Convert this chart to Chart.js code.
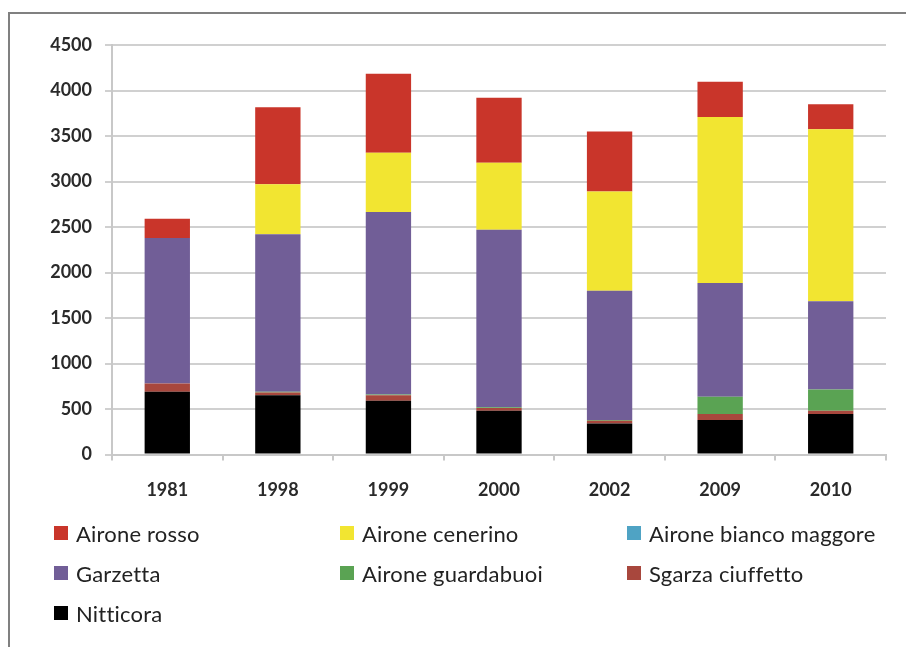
<!DOCTYPE html>
<html>
<head>
<meta charset="utf-8">
<script src="https://cdn.jsdelivr.net/npm/chart.js@4"></script>
<style>
  html, body { margin: 0; padding: 0; background: #fff; }
  #frame {
    position: absolute; left: 8px; top: 12px; width: 898px; height: 635px;
    border-left: 2px solid #808080; border-top: 2px solid #808080;
  }
  #wrap { position: absolute; left: 0; top: 0; width: 906px; height: 520px; }
  #legend {
    position: absolute; left: 54px; top: 513px;
    display: grid; grid-template-columns: 286px 287px 280px; grid-auto-rows: 40px;
    font-family: Lato, sans-serif; font-size: 22px; letter-spacing: 0.2px; color: #222;
  }
  #legend div { display: flex; align-items: center; white-space: nowrap; }
  #legend span.box { width: 14px; height: 14px; margin-right: 8px; display: inline-block; }
</style>
</head>
<body>
<div id="frame"></div>
<div id="wrap"><canvas id="myChart"></canvas></div>
<div id="legend"></div>
<script>
'use strict';

// years on the x axis
let years = ['1981', '1998', '1999', '2000', '2002', '2009', '2010'];

// nests per species, bottom of the stack first
let nitticora = [690, 650, 590, 480, 340, 380, 445];
let sgarzaCiuffetto = [90, 30, 60, 30, 30, 65, 35];
let aironeGuardabuoi = [0, 10, 10, 10, 10, 190, 235];
let garzetta = [1600, 1730, 2005, 1950, 1420, 1250, 970];
let aironeBiancoMaggore = [0, 0, 0, 0, 0, 0, 0];
let aironeCenerino = [0, 550, 650, 735, 1090, 1825, 1890];
let aironeRosso = [210, 847, 870, 715, 660, 385, 275];

let yTicks = [0, 500, 1000, 1500, 2000, 2500, 3000, 3500, 4000, 4500];

// legend order is top of the stack first
let series = [
    { name: 'Nitticora', data: nitticora, color: '#000000' },
    { name: 'Sgarza ciuffetto', data: sgarzaCiuffetto, color: '#A8473D' },
    { name: 'Airone guardabuoi', data: aironeGuardabuoi, color: '#5AA353' },
    { name: 'Garzetta', data: garzetta, color: '#715E97' },
    { name: 'Airone bianco maggore', data: aironeBiancoMaggore, color: '#4FA3C4' },
    { name: 'Airone cenerino', data: aironeCenerino, color: '#F2E531' },
    { name: 'Airone rosso', data: aironeRosso, color: '#C9352A' }
];

let datasets = [];
for (let i = 0; i < series.length; i++) {
    datasets.push({
        label: series[i].name,
        data: series[i].data,
        backgroundColor: series[i].color,
        borderWidth: 0,
        barPercentage: 0.41,
        categoryPercentage: 1
    });
}

// html legend, three columns like the original
let legend = document.getElementById('legend');
for (let i = series.length - 1; i >= 0; i--) {
    let item = document.createElement('div');
    item.innerHTML = '<span class="box" style="background:' + series[i].color + '"></span>' + series[i].name;
    legend.appendChild(item);
}

const ctx = document.getElementById('myChart');
new Chart(ctx, {
    type: 'bar',
    data: { labels: years, datasets: datasets },
    options: {
        responsive: true,
        maintainAspectRatio: false,
        animation: false,
        layout: { padding: { left: 0, right: 20, top: 45, bottom: 0 } },
        plugins: { legend: { display: false }, tooltip: { enabled: false } },
        scales: {
            x: {
                stacked: true,
                afterFit: function (scale) { scale.height = 65.5; },
                grid: { drawOnChartArea: false, drawTicks: true, tickLength: 6, color: '#c8c8c8', lineWidth: 2 },
                border: { color: '#c8c8c8', width: 2 },
                ticks: { padding: 19, color: '#2a2a2a', font: { family: 'Lato', size: 18, weight: 'bold' } }
            },
            y: {
                stacked: true,
                min: 0,
                max: 4500,
                afterFit: function (scale) { scale.width = 112; },
                afterBuildTicks: function (scale) {
                    scale.ticks = yTicks.map(function (v) { return { value: v }; });
                },
                grid: { color: '#d0d0d0', lineWidth: 2, drawTicks: true, tickLength: 7 },
                border: { color: '#c8c8c8', width: 2 },
                ticks: {
                    padding: 13,
                    color: '#2a2a2a',
                    font: { family: 'Lato', size: 18, weight: 'bold' },
                    callback: function (v) { return String(v); }
                }
            }
        }
    }
});
</script>
</body>
</html>
